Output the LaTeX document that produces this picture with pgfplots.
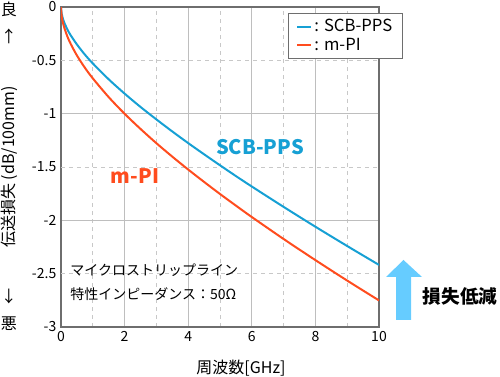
\documentclass[border=0pt]{standalone}
\usepackage{fontspec}
\setmainfont{Noto Sans CJK JP}
\usepackage{pgfplots}
\pgfplotsset{compat=1.18}

\definecolor{scbblue}{RGB}{22,160,212}
\definecolor{mpired}{RGB}{255,76,30}
\definecolor{arrowblue}{RGB}{102,204,255}
\definecolor{gridmajor}{RGB}{190,190,190}
\definecolor{gridminor}{RGB}{200,200,200}
\definecolor{frame}{RGB}{110,110,110}

\newcommand{\px}{0.75pt}

% transmission loss vs frequency
\pgfplotstableread{
f     loss
0     0
0.02  -0.061
0.05  -0.099
0.1   -0.144
0.2   -0.210
0.3   -0.263
0.5   -0.351
0.75  -0.446
1     -0.529
1.5   -0.678
2     -0.812
2.5   -0.937
3     -1.054
3.5   -1.167
4     -1.276
4.5   -1.381
5     -1.484
5.5   -1.585
6     -1.683
7     -1.874
8     -2.060
9     -2.241
10    -2.418
}\scbpps

\pgfplotstableread{
f     loss
0     0
0.02  -0.083
0.05  -0.134
0.1   -0.191
0.2   -0.276
0.3   -0.343
0.5   -0.454
0.75  -0.569
1     -0.669
1.5   -0.845
2     -1.001
2.5   -1.143
3     -1.277
3.5   -1.403
4     -1.524
4.5   -1.640
5     -1.753
5.5   -1.862
6     -1.969
7     -2.175
8     -2.373
9     -2.565
10    -2.751
}\mpi

\begin{document}
\begin{tikzpicture}
\useasboundingbox (-61*\px,-50*\px) rectangle (439*\px,327*\px);
\begin{axis}[
  at={(0,0)}, anchor=south west,
  scale only axis, width=238.5pt, height=240pt,
  xmin=0, xmax=10, ymin=-3, ymax=0,
  xtick={0,2,...,10}, minor xtick={1,3,5,7,9},
  ytick={-3,-2,-1,0},
  extra y ticks={-2.5,-1.5,-0.5},
  extra y tick style={major grid style={gridminor, dash pattern=on 3pt off 3pt, line width=0.6pt}},
  grid=both,
  major grid style={gridmajor, line width=0.6pt},
  minor grid style={gridminor, dash pattern=on 3pt off 3pt, line width=0.6pt},
  major tick length=0pt, minor tick length=0pt,
  axis line style={frame, line width=0.8pt},
  tick label style={font=\fontsize{10.5}{12}\selectfont, text=black},
  /pgf/number format/assume math mode=true,
  legend style={at={(axis description cs:0.714,0.981)}, anchor=north west,
    draw=frame, line width=0.6pt, fill=white,
    font=\fontsize{12.5}{15}\selectfont, row sep=-1pt,
    inner xsep=6pt, inner ysep=2.5pt},
  legend cell align=left,
  legend image code/.code={\draw[#1, line width=1.5pt] (0pt,0pt) -- (10pt,0pt);},
]
\addplot[scbblue, line width=1.5pt, smooth] table[x=f, y=loss] {\scbpps};
\addlegendentry{: SCB-PPS}
\addplot[mpired, line width=1.5pt, smooth] table[x=f, y=loss] {\mpi};
\addlegendentry{: m-PI}
\end{axis}

% curve labels
\node[text=scbblue, font=\fontsize{15}{18}\selectfont\bfseries] at (199*\px,180*\px) {SCB-PPS};
\node[text=mpired, font=\fontsize{15}{18}\selectfont\bfseries] at (74*\px,151*\px) {m-PI};

% condition note
\node[anchor=west, align=left, font=\fontsize{10.5}{18}\selectfont, inner sep=0pt]
  at (9*\px,45*\px) {マイクロストリップライン\\特性インピーダンス：50Ω};

% axis titles
\node[font=\fontsize{12}{14}\selectfont] at (180*\px,-41*\px) {周波数[GHz]};
\node[rotate=90, font=\fontsize{12}{14}\selectfont] at (-52*\px,160*\px) {伝送損失 (dB/100mm)};
\node[align=center, font=\fontsize{12}{20}\selectfont, inner sep=0pt] at (-52*\px,304*\px) {良\\↑};
\node[align=center, font=\fontsize{12}{20}\selectfont, inner sep=0pt] at (-52*\px,17*\px) {↓\\悪};

% loss-reduction arrow
\fill[arrowblue] (335*\px,7*\px) -- (350*\px,7*\px) -- (350*\px,50*\px) -- (361*\px,50*\px)
  -- (342.5*\px,67*\px) -- (325*\px,50*\px) -- (335*\px,50*\px) -- cycle;
\node[font=\fontsize{14}{16}\selectfont\bfseries] at (399*\px,31*\px) {損失低減};
\end{tikzpicture}
\end{document}
